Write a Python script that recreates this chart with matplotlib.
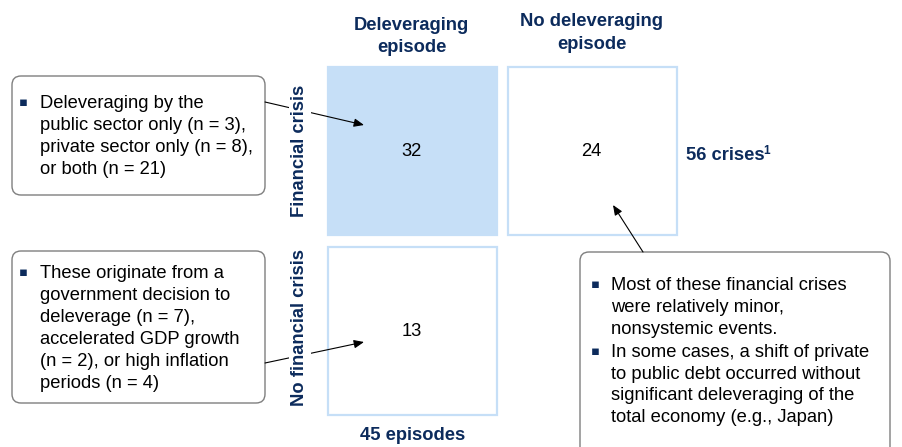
import matplotlib
matplotlib.use("Agg")
import matplotlib.pyplot as plt
from matplotlib.patches import FancyBboxPatch, Rectangle

plt.rcParams['font.family'] = ['Liberation Sans', 'DejaVu Sans']

# ---- data ----
col_labels = [["Deleveraging", "episode"], ["No deleveraging", "episode"]]
row_labels = ["Financial crisis", "No financial crisis"]
counts = [[32, 24], [13, None]]
row_total_label = "56 crises"
row_total_note = "1"
col_total_label = "45 episodes"
note_top_left = ["Deleveraging by the", "public sector only (n = 3),",
                 "private sector only (n = 8),", "or both (n = 21)"]
note_bottom_left = ["These originate from a", "government decision to",
                    "deleverage (n = 7),", "accelerated GDP growth",
                    "(n = 2), or high inflation", "periods (n = 4)"]
note_right = [["Most of these financial crises", "were relatively minor,",
               "nonsystemic events."],
              ["In some cases, a shift of private", "to public debt occurred without",
               "significant deleveraging of the", "total economy (e.g., Japan)"]]

NAVY = "#0C2B5C"
CELL = "#C6DFF7"
W, H = 903, 447
FS = 13.2

fig = plt.figure(figsize=(W / 100, H / 100), dpi=100)
ax = fig.add_axes([0, 0, 1, 1])
ax.set_xlim(0, W)
ax.set_ylim(H, 0)
ax.axis('off')

# grid cells
cell_x = [328, 508]
cell_y = [67, 247]
cw, ch = 169, 168
num_y = [152, 332]
for r in range(2):
    for c in range(2):
        v = counts[r][c]
        if v is None:
            continue
        filled = (r == 0 and c == 0)
        ax.add_patch(Rectangle((cell_x[c], cell_y[r]), cw, ch,
                               facecolor=CELL if filled else "white",
                               edgecolor=CELL, lw=1.6, zorder=1))
        ax.text(cell_x[c] + cw / 2 - 1, num_y[r], str(v),
                ha='center', va='center', fontsize=FS, color='black', zorder=3)

# column headers
head_y = [25, 22]
for c, lines in enumerate(col_labels):
    for i, ln in enumerate(lines):
        ax.text(cell_x[c] + cw / 2 - 1, head_y[c] + i * 22.5, ln, ha='center',
                va='center', fontsize=FS, fontweight='bold', color=NAVY)

# row labels (with white background to break arrow lines)
row_centers = [151, 327]
for r, lab in enumerate(row_labels):
    ax.text(300, row_centers[r], lab, rotation=90, ha='center', va='center',
            fontsize=FS, fontweight='bold', color=NAVY, zorder=4,
            bbox=dict(boxstyle='square,pad=0.15', facecolor='white', edgecolor='none'))

t = ax.text(686, 155, row_total_label, ha='left', va='center', fontsize=FS,
            fontweight='bold', color=NAVY)
fig.canvas.draw()
bb = t.get_window_extent()
x_end = ax.transData.inverted().transform((bb.x1, bb.y1))[0]
ax.text(x_end - 1, 151, row_total_note, ha='left', va='center', fontsize=8.5,
        fontweight='bold', color=NAVY)
ax.text(413, 435, col_total_label, ha='center', va='center', fontsize=FS,
        fontweight='bold', color=NAVY)

# note boxes
def rbox(x0, y0, x1, y1):
    ax.add_patch(FancyBboxPatch((x0, y0), x1 - x0, y1 - y0,
                                boxstyle="round,pad=0,rounding_size=9",
                                facecolor='white', edgecolor='#7F7F7F', lw=1.0, zorder=2))

def bullet_lines(x_b, x_t, y0, lines, step=22.0):
    ax.text(x_b, y0 - 1, "\u25aa", ha='center', va='center', fontsize=9.5,
            color=NAVY, family=['DejaVu Sans'], zorder=3)
    for i, ln in enumerate(lines):
        ax.text(x_t, y0 + i * step, ln, ha='left', va='center', fontsize=FS,
                color='black', zorder=3)
    return y0 + len(lines) * step

rbox(12, 76, 265, 195)
bullet_lines(23, 40, 104, note_top_left, step=21.8)

rbox(12, 251, 265, 403)
bullet_lines(23, 40, 273, note_bottom_left)

rbox(580, 252, 890, 470)
y = 286
for grp in note_right:
    y = bullet_lines(595, 611, y, grp, step=21.7) + 1.5

# arrows
arrow = dict(arrowstyle='-|>,head_length=0.6,head_width=0.25', color='black', lw=0.8,
             shrinkA=0, shrinkB=0)
ax.annotate("", xy=(364, 125), xytext=(265, 102), arrowprops=arrow, zorder=2.5)
ax.annotate("", xy=(364, 342), xytext=(265, 363), arrowprops=arrow, zorder=2.5)
ax.annotate("", xy=(613, 205), xytext=(643, 252), arrowprops=arrow, zorder=2.5)

fig.savefig("out.png", dpi=100)
